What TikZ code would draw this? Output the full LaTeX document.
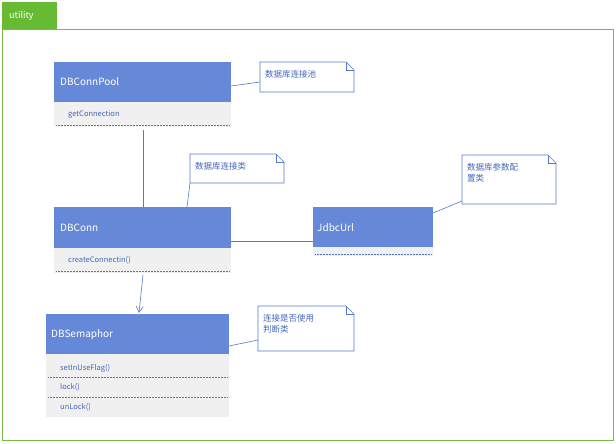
\documentclass[tikz,border=0pt]{standalone}
\usepackage{fontspec}
\setmainfont{Noto Sans CJK SC}
\usetikzlibrary{arrows.meta}
\definecolor{hdr}{HTML}{6688D8}
\definecolor{bodyc}{HTML}{F0F0F0}
\definecolor{grn}{HTML}{77BB44}
\definecolor{tabg}{HTML}{66BB33}
\definecolor{txt}{HTML}{4466BB}
\definecolor{ln}{HTML}{5577CC}
\tikzset{
 hdrbox/.style={fill=hdr,draw=none},
 bodybox/.style={fill=bodyc,draw=none},
 htext/.style={anchor=west,text=white,font=\fontsize{10}{12}\selectfont,inner sep=0},
 mtext/.style={anchor=west,text=txt,font=\fontsize{7.5}{9}\selectfont,inner sep=0},
 sep/.style={draw=ln,densely dotted,line width=0.5pt},
 conn/.style={draw=ln,line width=0.6pt},
 notetext/.style={anchor=north west,text=txt,font=\fontsize{8.5}{11}\selectfont,inner sep=0,align=left},
}
\newcommand{\notebox}[5]{% name x1 y1 x2 y2
 \draw[ln,fill=white,line width=0.6pt] (#2,#3) -- (#4-8,#3) -- (#4,#3+8) -- (#4,#5) -- (#2,#5) -- cycle;
 \draw[ln,line width=0.6pt] (#4-8,#3) -- (#4-8,#3+8) -- (#4,#3+8);
 \coordinate (#1) at (#2,#3);
}
\begin{document}
\begin{tikzpicture}[x=1pt,y=-1pt]
\useasboundingbox (0,0) rectangle (616,444);
% frame
\draw[grn,line width=0.7pt] (2,29) rectangle (613,440);
\fill[tabg] (2,2) rectangle (57,29);
\node[anchor=west,text=white,font=\fontsize{9}{11}\selectfont,inner sep=0] (tab) at (9,16) {utility};
% DBConnPool
\fill[hdrbox] (54,62) rectangle (231,102);
\fill[bodybox] (54,102) rectangle (231,127);
\node[htext] (pool) at (60,82) {DBConnPool};
\node[mtext] (poolm) at (68,115) {getConnection};
\draw[sep] (56,125) -- (229,125);
\coordinate (poolB) at (143,127);
% DBConn
\fill[hdrbox] (54,207) rectangle (231,248);
\fill[bodybox] (54,248) rectangle (231,273);
\node[htext] (conn) at (60,228) {DBConn};
\node[mtext] (connm) at (68,260) {createConnectin()};
\draw[sep] (56,271) -- (229,271);
% JdbcUrl
\fill[hdrbox] (313,207) rectangle (433,247);
\fill[bodybox] (313,247) rectangle (433,256);
\node[htext] (jdbc) at (317,228) {JdbcUrl};
\draw[sep] (315,254) -- (431,254);
% DBSemaphor
\fill[hdrbox] (46,314) rectangle (229,354);
\fill[bodybox] (46,354) rectangle (229,417);
\node[htext] (sem) at (51,335) {DBSemaphor};
\node[mtext] (s1) at (60,368) {setInUseFlag()};
\draw[sep] (48,377) -- (227,377);
\node[mtext] (s2) at (60,387) {lock()};
\draw[sep] (48,397) -- (227,397);
\node[mtext] (s3) at (60,407) {unLock()};
% notes
\notebox{n1}{260}{62}{354}{92}
\node[notetext] (n1t) at (265,70) {数据库连接池};
\notebox{n2}{190}{154}{284}{183}
\node[notetext] (n2t) at (195,162) {数据库连接类};
\notebox{n3}{462}{155}{556}{204}
\node[notetext] (n3t) at (467,163) {数据库参数配\\置类};
\notebox{n4}{258}{306}{354}{351}
\node[notetext] (n4t) at (263,314) {连接是否使用\\判断类};
% connectors
\draw[conn] (143,130) -- (143,207);
\draw[conn] (231,86) -- (260,82);
\draw[conn] (187,207) -- (190,183);
\draw[conn] (231,241) -- (313,241);
\draw[conn] (433,213) -- (462,201);
\draw[conn] (229,346) -- (258,340);
\draw[conn,-{Straight Barb[length=6pt,width=7pt]}] (143,275) -- (139,313);
\end{tikzpicture}
\end{document}
